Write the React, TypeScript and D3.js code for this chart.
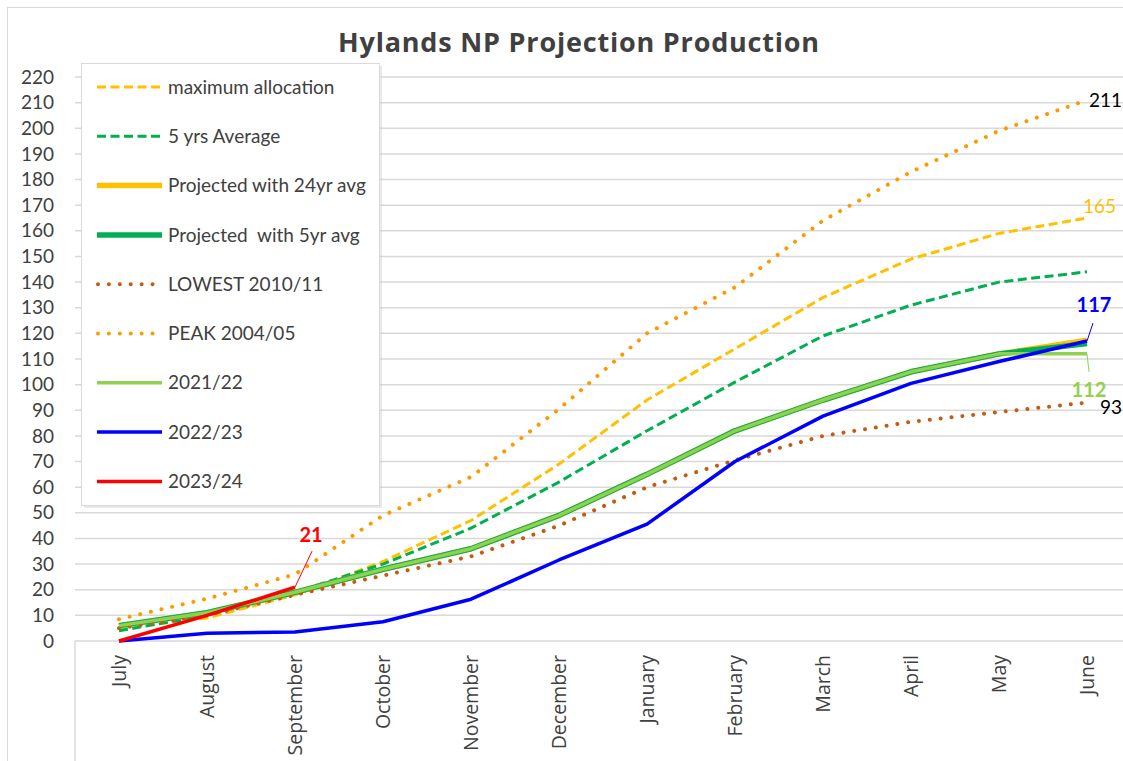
import * as d3 from "d3"

const months = ["July", "August", "September", "October", "November", "December", "January", "February", "March", "April", "May", "June"]
const yTicks = d3.range(0, 221, 10)

const maxAllocation = [5, 9, 18, 31, 47, 69, 94, 114, 134, 149, 159, 165]
const fiveYrAverage = [4, 10, 19, 30, 44, 62, 82, 101, 119, 131, 140, 144]
const projected24 = [6, 11, 19, 28, 36, 49, 65, 82, 94, 105, 112, 117.3]
const projected5 = [6, 11, 19, 28, 36, 49, 65, 82, 94, 105, 112, 116]
const lowest = [5, 10, 18, 25.5, 33, 45, 60, 70.5, 80, 85.5, 89.3, 93]
const peak = [8.5, 16.5, 26, 49, 64, 90.5, 120, 138, 164, 183, 199, 211]
const y2122 = [6, 11, 19, 28, 36, 49, 65, 82, 94, 105, 112, 112]
const y2223 = [0, 3, 3.5, 7.5, 16.3, 31.6, 45.6, 70, 87.7, 100.5, 109, 117]
const y2324 = [0, 10, 21]

type Series = { name: string; values: number[]; color: string; width: number; dash?: string; cap?: string }

const series: Series[] = [
  { name: "maximum allocation", values: maxAllocation, color: "#FFC000", width: 3, dash: "9 4.5" },
  { name: "5 yrs Average", values: fiveYrAverage, color: "#00B050", width: 3, dash: "9 4.5" },
  { name: "Projected with 24yr avg", values: projected24, color: "#FFC000", width: 5.5 },
  { name: "Projected  with 5yr avg", values: projected5, color: "#00B050", width: 5.5 },
  { name: "LOWEST 2010/11", values: lowest, color: "#C55A11", width: 4, dash: "0.01 10.9", cap: "round" },
  { name: "PEAK 2004/05", values: peak, color: "#FF9900", width: 4, dash: "0.01 10.9", cap: "round" },
  { name: "2021/22", values: y2122, color: "#92D050", width: 3.5 },
  { name: "2022/23", values: y2223, color: "#0000FF", width: 3.5 },
  { name: "2023/24", values: y2324, color: "#FF0000", width: 3.5 },
]

const W = 1123
const H = 761
const left = 75
const right = 1131
const top = 77
const bottom = 641
const font = "Lato, 'Open Sans', sans-serif"
const textColor = "#404040"

export default function App() {
  const x = d3.scalePoint<string>().domain(months).range([left, right]).padding(0.5)
  const y = d3.scaleLinear().domain([0, 220]).range([bottom, top])
  const line = d3
    .line<number>()
    .x((_, i) => x(months[i]) as number)
    .y((d) => y(d))

  const xJune = x("June") as number
  const xSep = x("September") as number

  return (
    <svg width={W} height={H} style={{ position: "absolute", left: 0, top: 0, background: "#fff" }} fontFamily={font}>
      <rect x={7.5} y={7.5} width={W + 20} height={H + 20} fill="#fff" stroke="#d9d9d9" />
      <text
        x={579}
        y={52}
        textAnchor="middle"
        fontSize={27}
        fontWeight="bold"
        fontFamily="'Open Sans', sans-serif"
        letterSpacing={0.8}
        fill={textColor}
      >
        Hylands NP Projection Production
      </text>

      {/* grid */}
      {yTicks.map((t) => (
        <line key={t} x1={left} x2={right} y1={y(t)} y2={y(t)} stroke="#d9d9d9" strokeWidth={1.5} />
      ))}
      <line x1={left} x2={left} y1={bottom} y2={H} stroke="#d9d9d9" strokeWidth={1.5} />
      {yTicks.map((t) => (
        <text key={t} x={54} y={y(t)} dy="0.35em" textAnchor="end" fontSize={19} fill={textColor}>
          {t}
        </text>
      ))}
      {months.map((m) => (
        <text
          key={m}
          transform={`translate(${(x(m) as number) + 7},${bottom + 14}) rotate(-90)`}
          textAnchor="end"
          fontSize={19.5}
          fontFamily="'Open Sans', sans-serif"
          fill={textColor}
        >
          {m}
        </text>
      ))}

      {/* lines */}
      {series.map((s) => (
        <path
          key={s.name}
          d={line(s.values) as string}
          fill="none"
          stroke={s.color}
          strokeWidth={s.width}
          strokeDasharray={s.dash}
          strokeLinecap={(s.cap as any) || "butt"}
          strokeLinejoin="round"
        />
      ))}

      {/* data labels */}
      <line x1={xSep} y1={y(21)} x2={xSep + 17} y2={y(21) - 36} stroke="#FF0000" strokeWidth={1} />
      <text x={xSep + 16} y={y(21) - 45} textAnchor="middle" fontSize={20} fontWeight="bold" fill="#FF0000">21</text>
      <line x1={xJune} y1={y(117)} x2={xJune + 6} y2={y(117) - 18} stroke="#0000FF" strokeWidth={1} />
      <text x={xJune + 7} y={y(117) - 29} textAnchor="middle" fontSize={20} fontWeight="bold" fill="#0000FF">117</text>
      <line x1={xJune} y1={y(112)} x2={xJune + 2} y2={y(112) + 18} stroke="#92D050" strokeWidth={1} />
      <text x={xJune + 2} y={y(112) + 43} textAnchor="middle" fontSize={20} fontWeight="bold" fill="#92D050">112</text>
      <text x={1122} y={y(93) + 5} dy="0.35em" textAnchor="end" fontSize={19} fill="#000">93</text>
      <text x={1122} y={y(211)} dy="0.35em" textAnchor="end" fontSize={19} fill="#000">211</text>
      <text x={xJune - 4} y={y(165) - 12} dy="0.35em" fontSize={19} fill="#FFC000">165</text>

      {/* legend */}
      <rect x={84} y={66} width={298} height={442} fill="#bfbfbf" opacity={0.35} />
      <rect x={81.5} y={63.5} width={298} height={442} fill="#fff" stroke="#d9d9d9" />
      {series.map((s, i) => {
        const ly = 87 + i * 49.3
        return (
          <g key={s.name}>
            <line
              x1={s.cap ? 98 : 97}
              x2={162}
              y1={ly}
              y2={ly}
              stroke={s.color}
              strokeWidth={s.width}
              strokeDasharray={s.dash}
              strokeLinecap={(s.cap as any) || "butt"}
            />
            <text x={168} y={ly} dy="0.35em" fontSize={19} fill={textColor} style={{ whiteSpace: "pre" }}>
              {s.name}
            </text>
          </g>
        )
      })}
    </svg>
  )
}
